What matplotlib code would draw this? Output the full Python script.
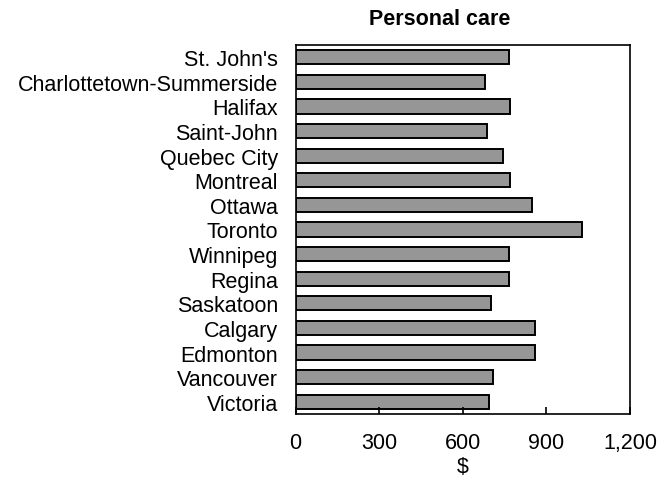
import matplotlib
matplotlib.use("Agg")
import matplotlib.pyplot as plt
from matplotlib.ticker import FuncFormatter

plt.rcParams['font.family'] = ['Liberation Sans', 'DejaVu Sans']

cities = ["St. John's", "Charlottetown-Summerside", "Halifax", "Saint-John",
          "Quebec City", "Montreal", "Ottawa", "Toronto", "Winnipeg", "Regina",
          "Saskatoon", "Calgary", "Edmonton", "Vancouver", "Victoria"]
values = [765, 679, 771, 686, 743, 771, 850, 1028, 765, 765, 700, 858, 858, 708, 694]
xticks = [0, 300, 600, 900, 1200]

fig = plt.figure(figsize=(6.71, 4.81), dpi=100)
ax = fig.add_axes([0.4404, 0.1372, 0.4985, 0.7672])
ypos = list(range(len(cities)))
ax.barh(ypos, values, height=0.58, color='#969696', edgecolor='black', linewidth=1.4)
ax.set_ylim(len(cities) - 0.5, -0.5)
ax.set_xlim(0, 1200)
ax.set_yticks(ypos)
ax.set_yticklabels(cities, fontsize=15.5)
ax.set_xticks(xticks)
ax.xaxis.set_major_formatter(FuncFormatter(lambda v, p: f"{int(v):,}"))
ax.tick_params(axis='x', direction='in', length=5, width=1.2, labelsize=15.5, pad=13)
ax.tick_params(axis='y', length=0, pad=12.5)
for s in ax.spines.values():
    s.set_linewidth(1.2)
ax.set_xlabel("$", fontsize=15.5, labelpad=2)
fig.text(0.655, 0.960, "Personal care", fontsize=15.5, fontweight='bold',
         ha='center', va='center')
fig.savefig("out.png", dpi=100)
